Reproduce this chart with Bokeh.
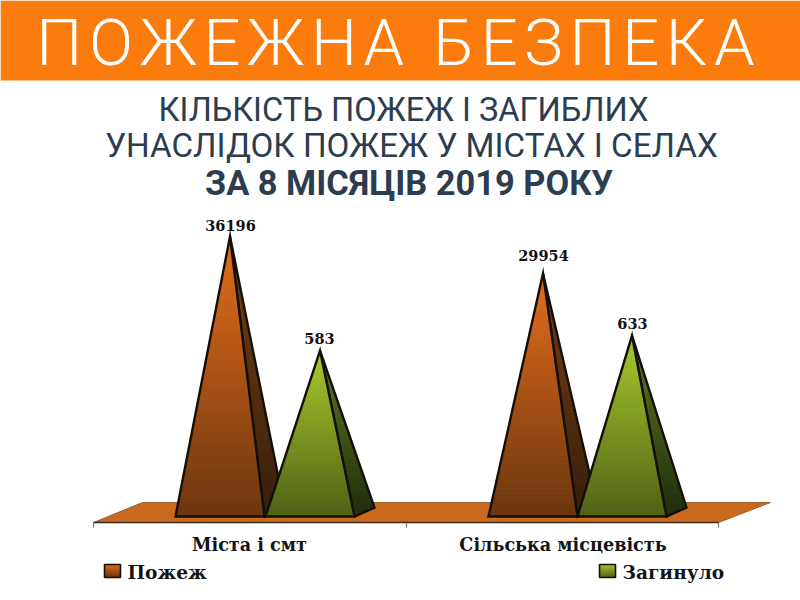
from bokeh.plotting import figure
from bokeh.models import Range1d
from bokeh.core.properties import value
from bokeh.embed import file_html
from bokeh.resources import INLINE

HS = "\u200a"
banner = HS.join("ПОЖЕЖНА БЕЗПЕКА")
title_line_1 = "КІЛЬКІСТЬ ПОЖЕЖ І ЗАГИБЛИХ"
title_line_2 = "УНАСЛІДОК ПОЖЕЖ У МІСТАХ І СЕЛАХ"
title_bold = "ЗА 8 МІСЯЦІВ 2019 РОКУ"
categories = ["Міста і смт", "Сільська місцевість"]
fires = [36196, 29954]
deaths = [583, 633]
series_names = ["Пожеж", "Загинуло"]

# Vertical scales: each series has its own axis, both share the floor line
FIRE_RANGE = (-25212, 76011)
FIRE_FLOOR = -11041
DEATH_RANGE = (-250, 1750)
DEATH_FLOOR = 30

ORANGE = "#fb7c0c"
INK = "#2b3d4f"
DARK = "#141008"
FIRE_FRONT = ("#e56d1b", "#6c360f")
FIRE_SIDE = ("#7a3f12", "#38200b")
DEATH_FRONT = ("#a9ca2c", "#506216")
DEATH_SIDE = ("#5f7d22", "#22300d")

p = figure(width=800, height=600, x_range=Range1d(0, 800), y_range=Range1d(600, 0),
           toolbar_location=None, output_backend="svg", min_border=0,
           background_fill_color="white", border_fill_color="white", outline_line_color=None)
p.margin = (0, 0, 0, 0)
p.axis.visible = False
p.grid.visible = False
p.extra_y_ranges = {"fires": Range1d(FIRE_RANGE[0], FIRE_RANGE[1]),
                    "deaths": Range1d(DEATH_RANGE[0], DEATH_RANGE[1])}


def mix(c0, c1, t):
    a = [int(c0[i:i + 2], 16) for i in (1, 3, 5)]
    b = [int(c1[i:i + 2], 16) for i in (1, 3, 5)]
    return "#%02x%02x%02x" % tuple(round(u + (v - u) * t) for u, v in zip(a, b))


def gradient_poly(left_top, right_top, left_bot, right_bot, top, bot, colors, rng, n=60):
    """Vertical gradient: horizontal slices of a trapezoid between top and bot."""
    xs, ys, cs = [], [], []
    for i in range(n):
        t0, t1 = i / n, (i + 1) / n
        l0 = left_top + (left_bot - left_top) * t0
        l1 = left_top + (left_bot - left_top) * t1
        r0 = right_top + (right_bot - right_top) * t0
        r1 = right_top + (right_bot - right_top) * t1
        y0 = top + (bot - top) * t0
        y1 = top + (bot - top) * t1
        xs.append([l0, r0, r1, l1])
        ys.append([y0, y0, y1, y1])
        cs.append(mix(colors[0], colors[1], (t0 + t1) / 2))
    kw = {"y_range_name": rng} if rng else {}
    p.patches(xs=xs, ys=ys, fill_color=cs, line_color=cs, line_width=1, **kw)


def pyramid(x0, val, floor, rng, front, side):
    width, depth = 89, 20
    apex = x0 + width / 2 + depth / 2
    x1 = x0 + width
    lo, hi = p.extra_y_ranges[rng].start, p.extra_y_ranges[rng].end
    back = floor + 9 * (hi - lo) / 600
    frac = (val - back) / (val - floor)
    # side face: gradient down to the rear corner's level, then a closing triangle
    gradient_poly(apex, apex, apex + (x1 - apex) * frac, x1 + depth, val, back, side, rng)
    p.patch([apex + (x1 - apex) * frac, x1, x1 + depth], [back, floor, back], fill_color=side[1],
            line_color=None, y_range_name=rng)
    p.patch([apex, x1, x1 + depth], [val, floor, back], fill_alpha=0, line_color=DARK, line_width=2.4,
            line_join="miter", y_range_name=rng)
    # front face
    gradient_poly(apex, apex, x0, x1, val, floor, front, rng)
    p.patch([apex, x0, x1], [val, floor, floor], fill_alpha=0, line_color=DARK, line_width=2.4,
            line_join="miter", y_range_name=rng)


# header
p.quad(left=[0], right=[800], top=[0], bottom=[80], fill_color=ORANGE, line_color=None)
p.text(x=[395], y=[42], text=[banner], text_color="white", text_font=value("Roboto Light"),
       text_font_size="65px", text_align="center", text_baseline="middle")
p.text(x=[403], y=[109], text=[title_line_1], text_color=INK, text_font=value("Roboto"),
       text_font_size="32.6px", text_align="center", text_baseline="middle")
p.text(x=[411], y=[145], text=[title_line_2], text_color=INK, text_font=value("Roboto"),
       text_font_size="33.2px", text_align="center", text_baseline="middle")
p.text(x=[408.5], y=[182], text=[title_bold], text_color=INK, text_font=value("Roboto"),
       text_font_style="bold", text_font_size="34.4px", text_align="center", text_baseline="middle")

# floor
p.patch([93, 142, 770, 718], [522, 502, 502, 522], fill_color="#c96a1f", line_color="#8a4a14", line_width=0.8)
p.segment(x0=[93], y0=[522], x1=[718], y1=[522], line_color="#3a2a1a", line_width=1.5)
p.segment(x0=[93, 406, 718], y0=[522, 522, 522], x1=[93, 406, 718], y1=[527, 527, 527],
          line_color="#777777", line_width=1.2)

x_fire = [175, 488]
x_death = [265, 577]
for i in range(2):
    pyramid(x_fire[i], fires[i], FIRE_FLOOR, "fires", FIRE_FRONT, FIRE_SIDE)
    pyramid(x_death[i], deaths[i], DEATH_FLOOR, "deaths", DEATH_FRONT, DEATH_SIDE)

SERIF = value("DejaVu Serif")
label_kw = dict(text_color="#111111", text_font=SERIF, text_font_style="bold", text_font_size="14.5px",
                text_align="center", text_baseline="bottom")
p.text(x=[230, 543], y=fires, text=[str(v) for v in fires], y_range_name="fires",
       y_offset=[-6, -13], **label_kw)
p.text(x=[319, 632], y=deaths, text=[str(v) for v in deaths], y_range_name="deaths",
       y_offset=[-7, -7], **label_kw)

p.text(x=[249, 562.5], y=[544, 544], text=categories, text_color="#141414", text_font=SERIF,
       text_font_style="bold", text_font_size="17.6px", text_align="center", text_baseline="middle")

# legend
for lx, cols in ((104, FIRE_FRONT), (599, DEATH_FRONT)):
    gradient_poly(lx, lx + 16, lx, lx + 16, 564, 577, cols, None, n=13)
    p.quad(left=[lx], right=[lx + 16], top=[564], bottom=[577], fill_alpha=0, line_color=DARK, line_width=1.6)
p.text(x=[127, 622], y=[572, 572], text=series_names, text_color="#141414", text_font=SERIF,
       text_font_style="bold", text_font_size="18.6px", text_align="left", text_baseline="middle")

open("out.html", "w").write(file_html(p, INLINE))
